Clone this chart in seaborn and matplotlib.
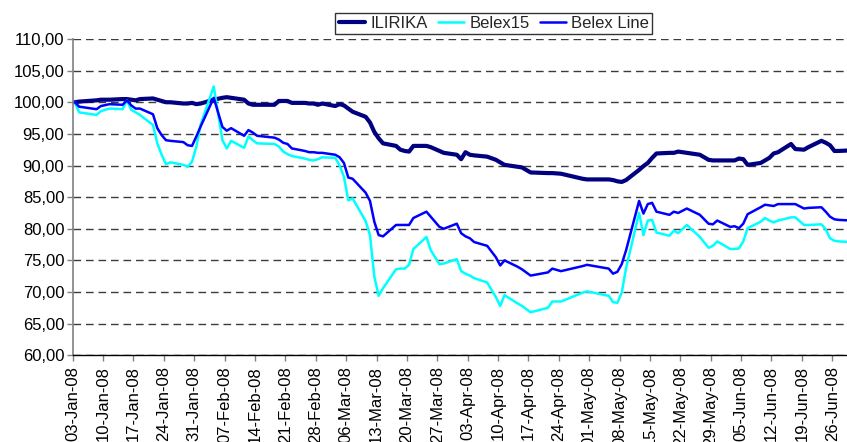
import pandas as pd
import seaborn as sns
import matplotlib
matplotlib.use("Agg")
import matplotlib.pyplot as plt
import matplotlib.dates as mdates
from matplotlib.ticker import FuncFormatter

# trading days
dates = [
    "2008-01-03", "2008-01-04", "2008-01-08", "2008-01-09", "2008-01-11", "2008-01-14", "2008-01-15",
    "2008-01-16", "2008-01-17", "2008-01-18", "2008-01-21", "2008-01-22", "2008-01-23", "2008-01-24",
    "2008-01-25", "2008-01-28", "2008-01-29", "2008-01-30", "2008-01-31",
    "2008-02-01", "2008-02-04", "2008-02-06", "2008-02-07", "2008-02-08", "2008-02-11", "2008-02-12",
    "2008-02-13", "2008-02-14", "2008-02-18", "2008-02-19", "2008-02-20", "2008-02-21", "2008-02-22",
    "2008-02-25", "2008-02-26", "2008-02-27", "2008-02-28", "2008-02-29",
    "2008-03-03", "2008-03-04", "2008-03-05", "2008-03-06", "2008-03-07", "2008-03-10", "2008-03-11",
    "2008-03-12", "2008-03-13", "2008-03-14", "2008-03-17", "2008-03-18", "2008-03-19", "2008-03-20",
    "2008-03-21", "2008-03-24", "2008-03-25", "2008-03-26", "2008-03-27", "2008-03-28", "2008-03-31",
    "2008-04-01", "2008-04-02", "2008-04-03", "2008-04-04", "2008-04-07", "2008-04-09", "2008-04-10",
    "2008-04-11", "2008-04-14", "2008-04-15", "2008-04-17", "2008-04-21", "2008-04-22", "2008-04-24",
    "2008-04-29", "2008-04-30",
    "2008-05-05", "2008-05-06", "2008-05-07", "2008-05-08", "2008-05-09", "2008-05-12", "2008-05-13",
    "2008-05-14", "2008-05-15", "2008-05-16", "2008-05-19", "2008-05-20", "2008-05-21", "2008-05-23",
    "2008-05-26", "2008-05-28", "2008-05-29", "2008-05-30",
    "2008-06-02", "2008-06-03", "2008-06-04", "2008-06-05", "2008-06-06", "2008-06-09", "2008-06-10",
    "2008-06-11", "2008-06-12", "2008-06-13", "2008-06-16", "2008-06-17", "2008-06-19", "2008-06-20",
    "2008-06-23", "2008-06-24", "2008-06-25", "2008-06-26", "2008-06-27", "2008-06-30",
]

ilirika = [
    100.0, 100.1, 100.3, 100.4, 100.4, 100.5, 100.5, 100.4, 100.3, 100.5, 100.6, 100.4, 100.2, 100.0,
    100.0, 99.8, 99.8, 99.9, 99.7,
    99.8, 100.4, 100.7, 100.8, 100.7, 100.4, 99.8, 99.6, 99.6, 99.6, 100.2, 100.2, 100.2, 99.9,
    99.9, 99.8, 99.8, 99.6, 99.8,
    99.4, 99.7, 99.5, 99.0, 98.5, 97.7, 96.8, 95.3, 94.3, 93.5, 93.1, 92.5, 92.3, 92.2,
    93.1, 93.1, 92.9, 92.6, 92.3, 92.0, 91.7,
    91.0, 92.1, 91.7, 91.6, 91.4, 90.9, 90.5, 90.1, 89.8, 89.7, 88.9, 88.8, 88.8, 88.7, 87.9, 87.8,
    87.8, 87.7, 87.5, 87.4, 87.7, 89.3, 89.9, 90.4, 91.2, 91.9, 92.0, 92.0, 92.2, 92.0,
    91.7, 90.9, 90.8, 90.8,
    90.8, 90.8, 91.1, 91.0, 90.1, 90.4, 90.8, 91.2, 91.9, 92.1, 93.4, 92.6, 92.5, 92.9,
    93.9, 93.6, 93.2, 92.3, 92.3, 92.4,
]

belex15 = [
    100.0, 98.4, 98.0, 98.6, 99.0, 98.9, 100.3, 98.8, 98.4, 98.0, 96.4, 93.5, 91.7, 90.2,
    90.5, 90.1, 89.8, 90.6, 93.0,
    96.5, 102.5, 94.0, 92.7, 93.9, 92.8, 94.6, 94.0, 93.5, 93.4, 93.0, 92.2, 91.8, 91.5,
    91.1, 90.9, 90.8, 91.0, 91.3,
    91.2, 90.0, 88.2, 84.5, 84.8, 81.2, 79.0, 72.4, 69.4, 70.6, 73.6, 73.7, 73.7, 74.3,
    76.8, 78.7, 76.6, 75.5, 74.4, 74.5, 75.2,
    73.3, 72.9, 72.6, 72.2, 71.5, 69.2, 67.8, 69.5, 68.2, 67.8, 66.8, 67.5, 68.5, 68.5, 69.9, 70.1,
    69.4, 68.4, 68.3, 69.9, 73.8, 82.5, 79.0, 81.3, 81.4, 79.4, 78.9, 79.7, 79.3, 80.6,
    78.7, 77.0, 77.3, 78.0,
    76.8, 76.8, 76.9, 78.0, 80.1, 81.1, 81.7, 81.3, 81.0, 81.3, 81.8, 81.8, 80.6, 80.6,
    80.7, 79.9, 78.5, 78.1, 78.0, 77.9,
]

belex_line = [
    100.0, 99.3, 98.9, 99.4, 99.7, 99.6, 100.3, 99.5, 99.0, 99.0, 98.1, 95.9, 94.8, 94.0,
    93.9, 93.7, 93.2, 93.1, 94.6,
    96.2, 100.7, 96.1, 95.5, 95.9, 94.7, 95.6, 95.2, 94.7, 94.4, 94.1, 93.6, 93.4, 92.7,
    92.3, 92.1, 92.1, 92.0, 92.0,
    91.7, 91.3, 90.4, 88.1, 87.9, 85.7, 84.4, 81.1, 79.0, 78.8, 80.6, 80.6, 80.6, 80.6,
    81.7, 82.7, 81.9, 81.1, 80.3, 80.0, 80.8,
    79.3, 78.8, 78.5, 77.9, 77.3, 75.5, 74.2, 75.0, 74.0, 73.6, 72.6, 73.1, 73.7, 73.3, 74.1, 74.3,
    73.7, 72.9, 73.2, 74.4, 76.6, 84.4, 82.4, 83.9, 84.1, 82.7, 82.2, 82.7, 82.5, 83.2,
    82.2, 80.8, 80.7, 81.3,
    80.3, 80.4, 80.1, 80.8, 82.3, 83.4, 83.8, 83.7, 83.6, 83.9, 83.9, 83.9, 83.2, 83.3,
    83.4, 82.7, 81.9, 81.5, 81.4, 81.3,
]

series_names = ["ILIRIKA", "Belex15", "Belex Line"]
colors = {"ILIRIKA": "#000080", "Belex15": "#00FFFF", "Belex Line": "#0000FF"}
widths = {"ILIRIKA": 3.0, "Belex15": 1.8, "Belex Line": 1.8}

# long format table, points sit in the middle of each day like Excel date axis
day = pd.to_datetime(dates) + pd.Timedelta(hours=12)
frames = []
for name, vals in zip(series_names, [ilirika, belex15, belex_line]):
    frames.append(pd.DataFrame({"date": day, "value": vals, "series": name}))
df = pd.concat(frames, ignore_index=True)

sns.set_style("white")
plt.rcParams["font.family"] = ["Liberation Sans", "DejaVu Sans"]
plt.rcParams["font.size"] = 12

fig = plt.figure(figsize=(8.47, 4.42), dpi=100)
ax = fig.add_axes([0.0858, 0.1962, 1.0 - 0.0858, 0.9118 - 0.1962])

for name in series_names:
    sns.lineplot(data=df[df["series"] == name], x="date", y="value", color=colors[name],
                 linewidth=widths[name], label=name, ax=ax, legend=False)

start = pd.Timestamp("2008-01-03")
ax.set_xlim(start, start + pd.Timedelta(days=178.4))
ax.set_ylim(60, 110)
ax.set_yticks(range(60, 111, 5))
ax.yaxis.set_major_formatter(FuncFormatter(lambda v, p: f"{v:.2f}".replace(".", ",")))

ax.set_xticks(pd.date_range("2008-01-03", "2008-06-26", freq="7D"))
ax.xaxis.set_major_formatter(mdates.DateFormatter("%d-%b-%y"))
plt.setp(ax.get_xticklabels(), rotation=90, va="top", ha="center")

ax.yaxis.grid(True, color="#3c3c3c", linewidth=1.0, linestyle=(0, (5.5, 3.5)))
ax.set_axisbelow(True)
ax.set(xlabel="", ylabel="")
ax.tick_params(axis="both", direction="out", length=4, width=1, color="#808080",
               labelsize=12, labelcolor="black", pad=2, bottom=True, left=True)
ax.tick_params(axis="x", pad=4)
sns.despine(ax=ax)
ax.spines["left"].set_color("#808080")
ax.spines["bottom"].set_color("#000000")
ax.spines["left"].set_linewidth(1.2)
ax.spines["bottom"].set_linewidth(1.0)

handles, labels = ax.get_legend_handles_labels()
leg = fig.legend(handles, labels, loc="center", bbox_to_anchor=(0.583, 0.947), ncol=3,
                 frameon=True, fancybox=False, edgecolor="black", fontsize=12,
                 handlelength=1.6, handletextpad=0.3, columnspacing=0.6,
                 borderpad=0.2, borderaxespad=0)
leg.get_frame().set_linewidth(1.0)

fig.savefig("out.png", dpi=100)
